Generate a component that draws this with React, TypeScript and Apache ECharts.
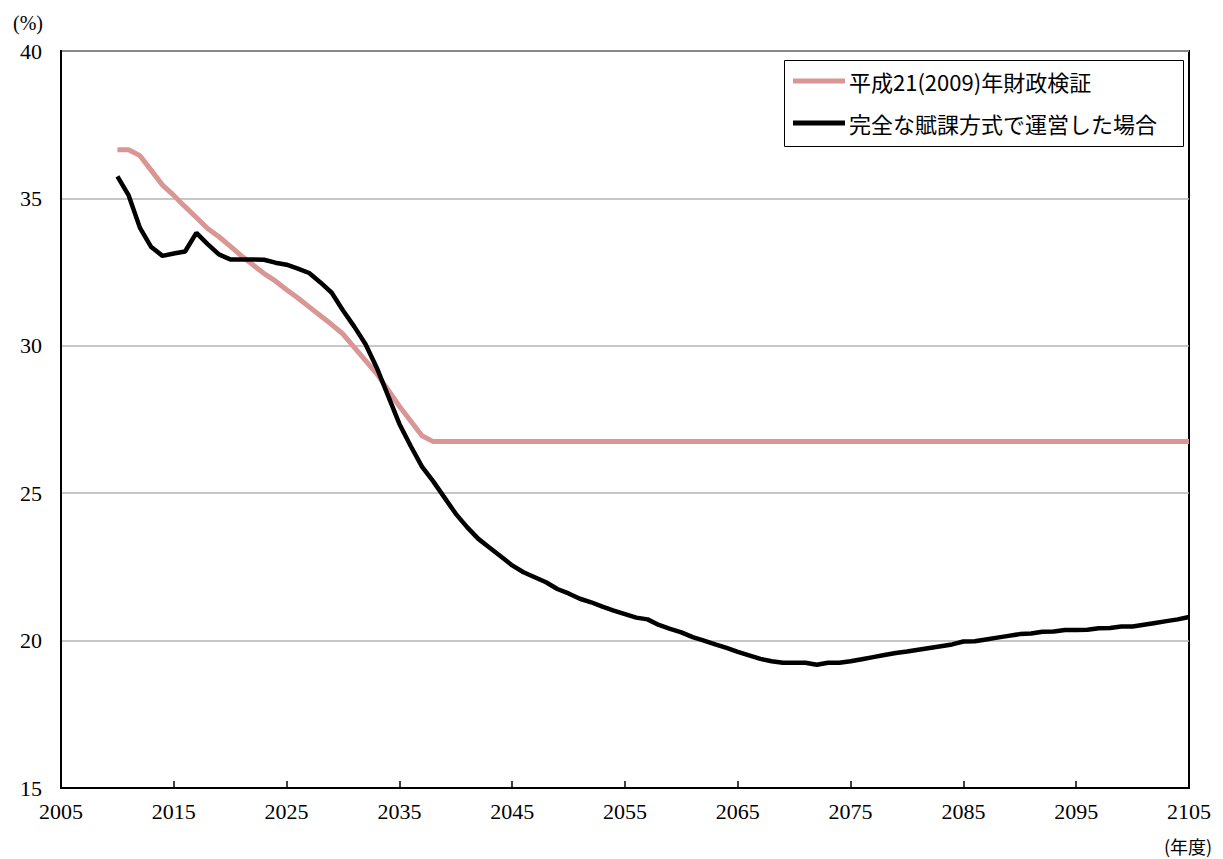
import React, { useEffect, useRef } from "react";
import * as echarts from "echarts";

const years: number[] = [];
for (let y = 2010; y <= 2105; y++) years.push(y);

const seriesNames = ["平成21(2009)年財政検証", "完全な賦課方式で運営した場合"];

// 平成21(2009)年財政検証 (2010–2038, then flat)
const zaiseiHead = [
  36.65, 36.65, 36.45, 35.95, 35.45, 35.1, 34.72, 34.35, 33.98, 33.7,
  33.38, 33.05, 32.75, 32.45, 32.2, 31.9, 31.62, 31.32, 31.02, 30.72,
  30.4, 29.95, 29.5, 29.05, 28.5, 27.95, 27.45, 26.95, 26.75,
];
const zaiseiFlat = 26.75;

// 完全な賦課方式で運営した場合 (2010–2105)
const fukaValues = [
  35.75, 35.1, 34.0, 33.35, 33.05, 33.13, 33.2, 33.83, 33.45, 33.1,
  32.93, 32.93, 32.93, 32.92, 32.82, 32.75, 32.62, 32.47, 32.15, 31.8,
  31.2, 30.65, 30.05, 29.25, 28.3, 27.35, 26.6, 25.9, 25.4, 24.85,
  24.3, 23.85, 23.45, 23.15, 22.85, 22.55, 22.32, 22.15, 21.98, 21.75,
  21.6, 21.42, 21.3, 21.15, 21.02, 20.9, 20.78, 20.72, 20.53, 20.4,
  20.28, 20.12, 20.0, 19.87, 19.75, 19.62, 19.5, 19.38, 19.3, 19.25,
  19.25, 19.25, 19.18, 19.25, 19.25, 19.3, 19.37, 19.44, 19.51, 19.58,
  19.63, 19.69, 19.75, 19.81, 19.87, 19.97, 19.98, 20.04, 20.1, 20.16,
  20.22, 20.24, 20.3, 20.31, 20.36, 20.36, 20.37, 20.42, 20.43, 20.48,
  20.48, 20.54, 20.6, 20.66, 20.72, 20.8,
];

const xMin = 2005;
const xMax = 2105;
const xInterval = 10;
const yMin = 15;
const yMax = 40;
const yInterval = 5;

const SERIF = "Liberation Serif";
const SANS = "Noto Sans CJK JP";

export default function App() {
  const ref = useRef<HTMLDivElement>(null);
  useEffect(() => {
    if (!ref.current) return;
    const chart = echarts.init(ref.current, null, { renderer: "svg" });
    const zaiseiData = years.map((y, i) => [y, i < zaiseiHead.length ? zaiseiHead[i] : zaiseiFlat]);
    const fukaData = years.map((y, i) => [y, fukaValues[i]]);
    chart.setOption({
      animation: false,
      backgroundColor: "#ffffff",
      textStyle: { fontFamily: SERIF },
      grid: {
        left: 61,
        right: 34,
        top: 51,
        bottom: 71,
        show: true,
        borderColor: "#000",
        borderWidth: 2,
        backgroundColor: "transparent",
      },
      legend: {
        orient: "vertical",
        left: 793,
        top: 70,
        itemWidth: 52,
        itemHeight: 5,
        itemGap: 20,
        icon: "rect",
        padding: 0,
        textStyle: { fontFamily: SANS, fontSize: 22, color: "#000", padding: [0, 0, 0, -1] },
        data: seriesNames,
      },
      graphic: [
        {
          type: "rect",
          shape: { x: 784.5, y: 60.5, width: 399, height: 86 },
          style: { fill: "none", stroke: "#000", lineWidth: 1 },
          z: 100,
        },
        {
          type: "text",
          left: 13,
          top: 13,
          style: { text: "(%)", fontFamily: SERIF, fontSize: 20, fill: "#000" },
        },
        {
          type: "text",
          left: 1164,
          top: 837,
          style: { text: "(年度)", fontFamily: SANS, fontSize: 18, fill: "#000" },
        },
      ],
      xAxis: {
        type: "value",
        min: xMin,
        max: xMax,
        interval: xInterval,
        axisLine: { show: true, lineStyle: { color: "#000", width: 2 } },
        axisTick: { show: true, inside: true, length: 7, lineStyle: { color: "#000", width: 1.5 } },
        axisLabel: {
          fontFamily: SERIF,
          fontSize: 22,
          color: "#000",
          margin: 12,
          formatter: (v: number) => String(v),
        },
        splitLine: { show: false },
      },
      yAxis: {
        type: "value",
        min: yMin,
        max: yMax,
        interval: yInterval,
        axisLine: { show: true, lineStyle: { color: "#000", width: 2 } },
        axisTick: { show: false },
        axisLabel: { fontFamily: SERIF, fontSize: 22, color: "#000", margin: 19 },
        splitLine: { show: true, lineStyle: { color: "#b5b5b5", width: 1.5 } },
      },
      series: [
        {
          name: seriesNames[0],
          type: "line",
          data: zaiseiData,
          showSymbol: false,
          symbol: "none",
          lineStyle: { color: "#d99694", width: 5 },
          itemStyle: { color: "#d99694" },
          z: 2,
        },
        {
          name: seriesNames[1],
          type: "line",
          data: fukaData,
          showSymbol: false,
          symbol: "none",
          lineStyle: { color: "#000", width: 4.5 },
          itemStyle: { color: "#000" },
          z: 3,
        },
      ],
    });
    return () => chart.dispose();
  }, []);
  return (
    <div
      ref={ref}
      style={{ position: "fixed", left: 0, top: 0, width: 1223, height: 859, background: "#fff" }}
    />
  );
}
